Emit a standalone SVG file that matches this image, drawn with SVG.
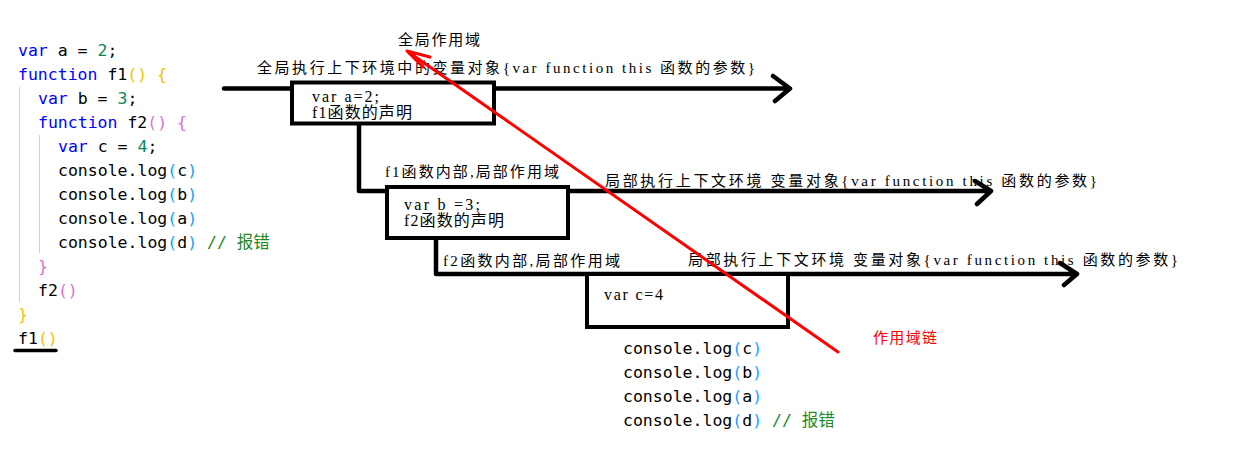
<svg xmlns="http://www.w3.org/2000/svg" width="1257" height="455" viewBox="0 0 1257 455">
<style>
.code{font-family:"DejaVu Sans Mono","Noto Sans CJK SC",monospace;font-size:16.5px;fill:#000}
.kw{fill:#0000ff}.num{fill:#098658}.p1{fill:#f2c200}.p2{fill:#da70d6}.p3{fill:#179fff}.cm{fill:#1f8a1f}
.lbl{font-family:"Liberation Serif","Noto Sans CJK SC",serif;font-size:15px;fill:#000}
.btx{font-family:"Liberation Serif","Noto Sans CJK SC",serif;font-size:16px;fill:#000}
.red{font-family:"Liberation Serif","Noto Sans CJK SC",serif;font-size:15px;fill:#ff0000}
.guide{stroke:#d0d0d0;stroke-width:1;fill:none}
.blk{stroke:#000;stroke-width:4.5;fill:none;stroke-linecap:round;stroke-linejoin:round}
.box{stroke:#000;stroke-width:4;fill:#fff}
.chain{stroke:#ff0000;stroke-width:3;fill:none;stroke-linecap:round;stroke-linejoin:round}
</style>
<rect width="1257" height="455" fill="#fff"/>
<g id="code">
<line class="guide" x1="19.5" y1="87" x2="19.5" y2="302"/>
<line class="guide" x1="39.5" y1="135" x2="39.5" y2="253"/>
<text class="code" x="18" y="56"><tspan class="kw">var</tspan> a = <tspan class="num">2</tspan>;</text>
<text class="code" x="18" y="80"><tspan class="kw">function</tspan> f1<tspan class="p1">()</tspan> <tspan class="p1">{</tspan></text>
<text class="code" x="38" y="104"><tspan class="kw">var</tspan> b = <tspan class="num">3</tspan>;</text>
<text class="code" x="38" y="128"><tspan class="kw">function</tspan> f2<tspan class="p2">()</tspan> <tspan class="p2">{</tspan></text>
<text class="code" x="58" y="152"><tspan class="kw">var</tspan> c = <tspan class="num">4</tspan>;</text>
<text class="code" x="58" y="176">console.log<tspan class="p3">(</tspan>c<tspan class="p3">)</tspan></text>
<text class="code" x="58" y="200">console.log<tspan class="p3">(</tspan>b<tspan class="p3">)</tspan></text>
<text class="code" x="58" y="224">console.log<tspan class="p3">(</tspan>a<tspan class="p3">)</tspan></text>
<text class="code" x="58" y="248">console.log<tspan class="p3">(</tspan>d<tspan class="p3">)</tspan> <tspan class="cm">// 报错</tspan></text>
<text class="code" x="38" y="272"><tspan class="p2">}</tspan></text>
<text class="code" x="38" y="296">f2<tspan class="p2">()</tspan></text>
<text class="code" x="18" y="320"><tspan class="p1">}</tspan></text>
<text class="code" x="18" y="344">f1<tspan class="p1">()</tspan></text>
<line x1="15" y1="350.5" x2="56" y2="350.5" stroke="#000" stroke-width="3.5" stroke-linecap="round"/>
</g>
<g id="connectors">
<path class="blk" d="M224,88.5 H789 M773,76 L790,88.5 L775,101"/>
<path class="blk" d="M359,124 V191 H990 M975,181 L991,191 L977,204"/>
<path class="blk" d="M436,238 V274 H1076 M1060,263 L1077,274 L1064,285"/>
</g>
<g id="labels">
<text class="lbl" x="398" y="45" textLength="82" lengthAdjust="spacing">全局作用域</text>
<text class="lbl" x="257" y="73" textLength="498" lengthAdjust="spacing">全局执行上下环境中的变量对象{var function this 函数的参数}</text>
<text class="lbl" x="385" y="177" textLength="174" lengthAdjust="spacing">f1函数内部,局部作用域</text>
<text class="lbl" x="605" y="186" textLength="492" lengthAdjust="spacing">局部执行上下文环境 变量对象{var function this 函数的参数}</text>
<text class="lbl" x="443" y="266" textLength="177" lengthAdjust="spacing">f2函数内部,局部作用域</text>
<text class="lbl" x="688" y="265" textLength="490" lengthAdjust="spacing">局部执行上下文环境 变量对象{var function this 函数的参数}</text>
</g>
<g id="box1">
<rect class="box" x="292" y="82.5" width="202" height="41"/>
<text class="btx" x="312" y="102" textLength="67" lengthAdjust="spacing">var a=2;</text>
<text class="btx" x="312" y="117.5" textLength="100" lengthAdjust="spacing">f1函数的声明</text>
</g>
<g id="box2">
<rect class="box" x="387" y="187" width="181" height="51"/>
<text class="btx" x="404" y="210" textLength="76" lengthAdjust="spacing">var b =3;</text>
<text class="btx" x="404" y="225.5" textLength="100" lengthAdjust="spacing">f2函数的声明</text>
</g>
<g id="box3">
<rect class="box" x="587" y="274" width="201" height="53"/>
<text class="btx" x="604" y="300" textLength="59" lengthAdjust="spacing">var c=4</text>
</g>
<g id="console">
<text class="code" x="623" y="354">console.log<tspan class="p3">(</tspan>c<tspan class="p3">)</tspan></text>
<text class="code" x="623" y="378">console.log<tspan class="p3">(</tspan>b<tspan class="p3">)</tspan></text>
<text class="code" x="623" y="402">console.log<tspan class="p3">(</tspan>a<tspan class="p3">)</tspan></text>
<text class="code" x="623" y="426">console.log<tspan class="p3">(</tspan>d<tspan class="p3">)</tspan> <tspan class="cm">// 报错</tspan></text>
</g>
<g id="scope-chain">
<path class="chain" d="M838,352 L407,51 M430,57 L407,51 L423,67"/>
<text class="red" x="873" y="343" textLength="64" lengthAdjust="spacing">作用域链</text>
</g>
</svg>
